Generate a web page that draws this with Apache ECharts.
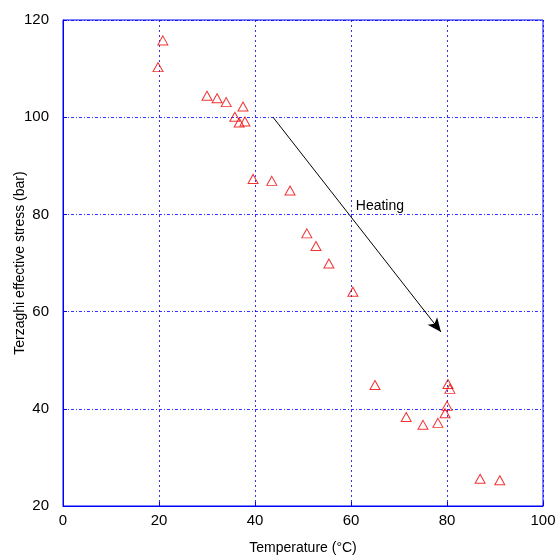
<!DOCTYPE html>
<html>
<head>
<meta charset="utf-8">
<script src="https://cdn.jsdelivr.net/npm/echarts@6/dist/echarts.min.js"></script>
<style>html,body{margin:0;padding:0;background:#fff}#c{width:555px;height:557px}</style>
</head>
<body>
<div id="c"></div>
<script>
var temperature = [19.8, 20.8, 30.0, 32.1, 34.0, 37.5, 35.8, 36.7, 37.9, 39.6, 43.5, 47.3, 50.8, 52.7, 55.4, 60.4, 65.0, 71.5, 75.0, 78.1, 79.6, 80.0, 80.2, 80.6, 86.9, 91.0];
var stress = [110.3, 115.8, 104.4, 103.9, 103.1, 102.2, 100.1, 98.9, 99.1, 87.3, 86.9, 84.9, 76.1, 73.5, 69.9, 64.1, 44.9, 38.3, 36.7, 37.1, 39.1, 40.6, 45.1, 44.1, 25.6, 25.3];
var xTicks = [0, 20, 40, 60, 80, 100];
var yTicks = [20, 40, 60, 80, 100, 120];
var arrowStart = [43.75, 100.0];
var arrowEnd = [78.75, 55.8];
var annotation = {text: 'Heating', at: [61.0, 81.7]};

var points = temperature.map(function (t, i) { return [t, stress[i]]; });
var font = 'Arial, "Liberation Sans", sans-serif';
var chart = echarts.init(document.getElementById('c'));
chart.setOption({
  animation: false,
  grid: {left: 63, right: 12, top: 20, bottom: 51, outerBoundsMode: 'none', containLabel: false, show: true, borderColor: '#0000ff', borderWidth: 1},
  xAxis: {
    type: 'value', min: xTicks[0], max: xTicks[xTicks.length - 1], interval: 20,
    name: 'Temperature (°C)', nameLocation: 'middle', nameGap: 35, nameMoveOverlap: false,
    nameTextStyle: {fontFamily: font, fontSize: 14, color: '#000'},
    axisLine: {show: true, lineStyle: {color: '#0000ff', width: 1}},
    axisTick: {show: true, inside: true, length: 4, lineStyle: {color: '#0000ff'}},
    axisLabel: {fontFamily: font, fontSize: 15, color: '#000', margin: 7},
    splitLine: {show: true, lineStyle: {color: '#0000ff', opacity: 0.8, type: [2, 3], width: 1}}
  },
  yAxis: {
    type: 'value', min: yTicks[0], max: yTicks[yTicks.length - 1], interval: 20,
    name: 'Terzaghi effective stress (bar)', nameLocation: 'middle', nameGap: 36, nameMoveOverlap: false,
    nameTextStyle: {fontFamily: font, fontSize: 14, color: '#000'},
    axisLine: {show: true, lineStyle: {color: '#0000ff', width: 1}},
    axisTick: {show: true, inside: true, length: 4, lineStyle: {color: '#0000ff'}},
    axisLabel: {fontFamily: font, fontSize: 15, color: '#000', margin: 14},
    splitLine: {show: true, lineStyle: {color: '#0000ff', opacity: 0.8, type: [3, 2, 1, 2], width: 1}}
  },
  series: [{
    type: 'scatter',
    data: points,
    symbol: 'triangle',
    symbolSize: [10, 9],
    itemStyle: {color: 'rgba(0,0,0,0)', borderColor: '#ee0000', borderWidth: 1},
    markLine: {
      silent: true,
      symbol: ['none', 'arrow'],
      symbolSize: [9, 14],
      label: {show: false},
      lineStyle: {color: '#000', width: 1, type: 'solid'},
      data: [[{coord: arrowStart}, {coord: arrowEnd}]]
    },
    markPoint: {
      silent: true,
      symbol: 'circle', symbolSize: 0,
      label: {show: true, position: 'right', distance: 0, formatter: annotation.text, fontFamily: font, fontSize: 14, color: '#000'},
      data: [{coord: annotation.at}]
    }
  }]
});
</script>
</body>
</html>
